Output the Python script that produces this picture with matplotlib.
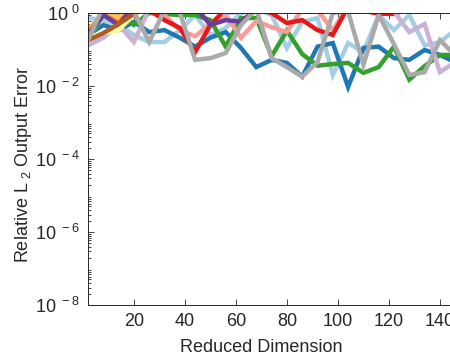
import numpy as np
import matplotlib
matplotlib.use("Agg")
import matplotlib.pyplot as plt

plt.rcParams['font.family'] = ['Liberation Sans', 'DejaVu Sans']
plt.rcParams['mathtext.default'] = 'regular'

## Reduced dimensions tested
dims = np.arange(2, 150, 6)

## Relative L2 output error per method (values above 1 fall outside the axes)
err_lightblue = [0.73, 0.64, 0.47, 0.25, 0.16, 0.16, 0.34, 0.88, 0.25, 0.39, 1.0, 1.3, 0.88,
                 0.11, 0.57, 0.73, 0.020, 0.15, 0.085, 0.88, 0.34, 0.88, 0.13, 0.16, 0.34]
err_blue = [0.25, 0.47, 0.34, 0.57, 0.30, 0.34, 0.21, 0.12, 0.21, 0.30, 0.11, 0.033, 0.052,
            0.043, 0.018, 0.12, 0.15, 0.0094, 0.11, 0.12, 0.058, 0.052, 0.097, 0.071, 0.045]
err_lightgreen = [0.21, 0.83, 1.5, 1.5, 1.5, 1.5, 1.5, 1.5, 1.5, 1.5, 1.5, 1.5, 1.5,
                  1.5, 1.5, 1.5, 1.5, 1.5, 1.5, 1.5, 1.5, 1.5, 1.5, 1.5, 1.5]
err_green = [0.21, 0.88, 1.0, 0.47, 1.0, 0.94, 0.88, 0.88, 0.64, 0.12, 0.73, 0.73, 0.065,
             0.33, 0.075, 0.036, 0.040, 0.043, 0.023, 0.033, 0.12, 0.015, 0.035, 0.071, 0.071]
err_pink = [1.5, 1.5, 1.5, 1.5, 1.3, 0.88, 0.34, 0.23, 0.50, 0.88, 0.21, 0.60, 0.41,
            0.30, 1.3, 1.2, 0.34, 1.5, 1.5, 1.5, 1.5, 1.5, 1.5, 1.5, 1.5]
err_red = [1.5, 1.5, 1.5, 1.5, 1.2, 0.64, 0.39, 0.085, 0.47, 1.3, 1.5, 1.3, 1.0,
           0.53, 0.64, 0.34, 0.25, 1.5, 1.15, 0.96, 0.94, 1.3, 1.5, 1.5, 1.5]
err_lightorange = [0.35, 1.0, 0.78, 1.2, 1.5, 1.5, 1.5, 1.5, 1.5, 1.5, 1.5, 1.5, 1.5,
                   1.5, 1.5, 1.5, 1.5, 1.5, 1.5, 1.5, 1.5, 1.5, 1.5, 1.5, 1.5]
err_orange = [0.30, 0.90, 0.55, 1.5, 1.5, 1.5, 1.5, 1.5, 1.5, 1.5, 1.5, 1.5, 1.5,
              1.5, 1.5, 1.5, 1.5, 1.5, 1.5, 1.5, 1.5, 1.5, 1.5, 1.5, 1.5]
err_lightpurple = [0.13, 0.21, 0.47, 0.16, 1.3, 1.5, 1.5, 1.5, 1.5, 0.97, 1.1, 1.5, 1.5,
                   1.5, 1.5, 1.5, 1.5, 1.5, 1.5, 1.5, 1.1, 0.30, 0.50, 0.024, 0.045]
err_purple = [0.25, 0.88, 0.47, 1.5, 1.5, 1.5, 1.5, 1.5, 0.47, 0.64, 0.57, 1.3, 1.5,
              1.5, 1.5, 1.5, 1.5, 1.5, 1.5, 1.5, 1.5, 1.5, 1.5, 1.5, 1.5]
err_yellow = [0.21, 0.28, 0.34, 0.90, 1.5, 1.5, 1.5, 1.5, 1.5, 1.5, 1.5, 1.5, 1.5,
              1.5, 1.5, 1.5, 1.5, 1.5, 1.5, 1.5, 1.5, 1.5, 1.5, 1.5, 1.5]
err_brown = [0.18, 0.28, 0.50, 0.94, 1.5, 1.5, 1.5, 1.5, 1.5, 1.5, 1.5, 1.5, 1.5,
             1.5, 1.5, 1.5, 1.5, 1.5, 1.5, 1.5, 1.5, 1.5, 1.5, 1.5, 1.5]
err_gray = [0.18, 1.5, 1.5, 1.1, 0.16, 1.2, 1.05, 0.052, 0.058, 0.080, 0.47, 1.3, 0.058,
            0.033, 0.018, 0.045, 1.0, 1.1, 0.038, 0.88, 0.14, 0.020, 0.024, 0.18, 0.070]

series = [err_lightblue, err_blue, err_lightgreen, err_green, err_pink, err_red,
          err_lightorange, err_orange, err_lightpurple, err_purple, err_yellow,
          err_brown, err_gray]
colors = ['#a6cee3', '#1f78b4', '#b2df8a', '#33a02c', '#fb9a99', '#e31a1c',
          '#fdbf6f', '#ff7f00', '#cab2d6', '#6a3d9a', '#ffff99', '#b15928', '#aaaaaa']

ytick_vals = [1e-8, 1e-6, 1e-4, 1e-2, 1e0]
ytick_labels = [r'$10^{\ -8}$', r'$10^{\ -6}$', r'$10^{\ -4}$', r'$10^{\ -2}$', r'$10^{\ 0}$']
xtick_vals = [20, 40, 60, 80, 100, 120, 140]

## Plotting
fig = plt.figure(figsize=(4.5, 3.61), dpi=100)
ax = fig.add_axes([88/450, 56/361, 377.4/450, 292/361])
for y, c in zip(series, colors):
    ax.plot(dims, y, '-', color=c, lw=3.2, solid_joinstyle='miter')

ax.set_yscale('log')
ax.set_xlim(2, 150)
ax.set_ylim(1e-8, 1)
ax.set_xticks(xtick_vals)
ax.set_yticks(ytick_vals)
ax.set_yticklabels(ytick_labels)
ax.yaxis.set_minor_locator(matplotlib.ticker.LogLocator(base=10, subs=np.arange(2, 10), numticks=20))
ax.yaxis.set_minor_formatter(matplotlib.ticker.NullFormatter())

axcol = '#262626'
for s in ax.spines.values():
    s.set_color(axcol)
    s.set_linewidth(0.7)
ax.tick_params(which='both', direction='in', top=True, right=True, colors=axcol,
               labelsize=13, width=0.6)
ax.tick_params(which='major', length=4)
ax.tick_params(which='minor', length=2)
ax.tick_params(axis='x', pad=6)
ax.tick_params(axis='y', pad=6)

ax.set_xlabel('Reduced Dimension', fontsize=13, color=axcol)
ax.set_ylabel(r'Relative L$_{\ 2}$ Output Error', fontsize=13, color=axcol)
ax.xaxis.set_label_coords(0.46, -0.118)
ax.yaxis.set_label_coords(-0.143, 0.483)

fig.savefig('out.png', dpi=100)
